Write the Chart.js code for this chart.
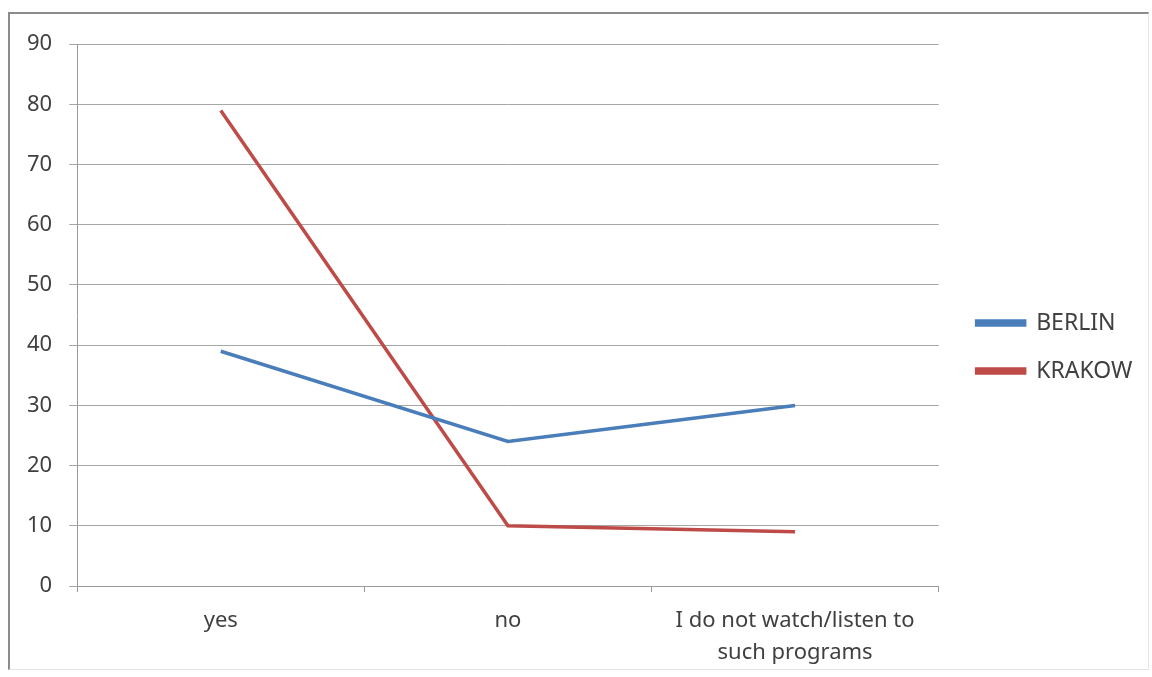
<!DOCTYPE html>
<html lang="en">
<head>
<meta charset="UTF-8">
<title>BERLIN vs KRAKOW</title>
<script src="https://cdn.jsdelivr.net/npm/chart.js"></script>
<style>
  html, body { margin: 0; padding: 0; background: #fff; }
  #frame {
    position: absolute; left: 8px; top: 12px;
    width: 1141px; height: 658px;
    border-left: 2px solid #8c8c8c; border-top: 2px solid #8c8c8c;
    border-right: 1px solid #e4e4e4; border-bottom: 1px solid #e4e4e4;
    box-sizing: border-box;
  }
</style>
</head>
<body>
<div id="frame"><canvas id="myChart" width="1138" height="655"></canvas></div>

<script>
const categories = ["yes", "no", ["I do not watch/listen to", "such programs"]];
const berlin = [39, 24, 30];
const krakow = [79, 10, 9];
const yTicks = [0, 10, 20, 30, 40, 50, 60, 70, 80, 90];

const ctx = document.getElementById("myChart").getContext("2d");
const chart = new Chart(ctx, {
  type: "line",
  data: {
    labels: categories,
    datasets: [
      {
        label: "BERLIN",
        data: berlin,
        borderColor: "#4a7ebb",
        backgroundColor: "#4a7ebb",
        borderWidth: 3.5,
        pointRadius: 0,
        tension: 0
      },
      {
        label: "KRAKOW",
        data: krakow,
        borderColor: "#be4b48",
        backgroundColor: "#be4b48",
        borderWidth: 3.5,
        pointRadius: 0,
        tension: 0
      }
    ]
  },
  options: {
    responsive: false,
    animation: false,
    layout: { padding: { left: 0, top: 11, right: 8, bottom: 0 } },
    plugins: {
      tooltip: { enabled: false },
      legend: {
        position: "right",
        labels: {
          boxWidth: 48,
          boxHeight: 4,
          padding: 25,
          color: "#404040",
          font: { family: "Noto Sans", size: 23 }
        }
      }
    },
    scales: {
      x: {
        offset: true,
        grid: {
          offset: true,
          drawOnChartArea: false,
          color: "#9a9a9a",
          tickLength: 6
        },
        border: { color: "#9a9a9a", width: 1 },
        ticks: {
          color: "#404040",
          padding: 13,
          maxRotation: 0,
          font: { family: "Noto Sans", size: 22, lineHeight: 1.4545 }
        },
        afterFit: axis => { axis.height = 83; }
      },
      y: {
        min: 0,
        max: 90,
        afterBuildTicks: axis => { axis.ticks = yTicks.map(v => ({ value: v })); },
        grid: { color: "#a6a6a6", tickLength: 8 },
        border: { color: "#9a9a9a", width: 1 },
        ticks: {
          color: "#404040",
          padding: 17,
          font: { family: "Noto Sans", size: 22 }
        }
      },
      // blank axis, only keeps a gap between the plot and the legend
      gapRight: {
        position: "right",
        display: true,
        grid: { display: false },
        border: { display: false },
        ticks: { display: false },
        afterFit: axis => { axis.width = 13; }
      }
    }
  }
});
</script>
</body>
</html>
